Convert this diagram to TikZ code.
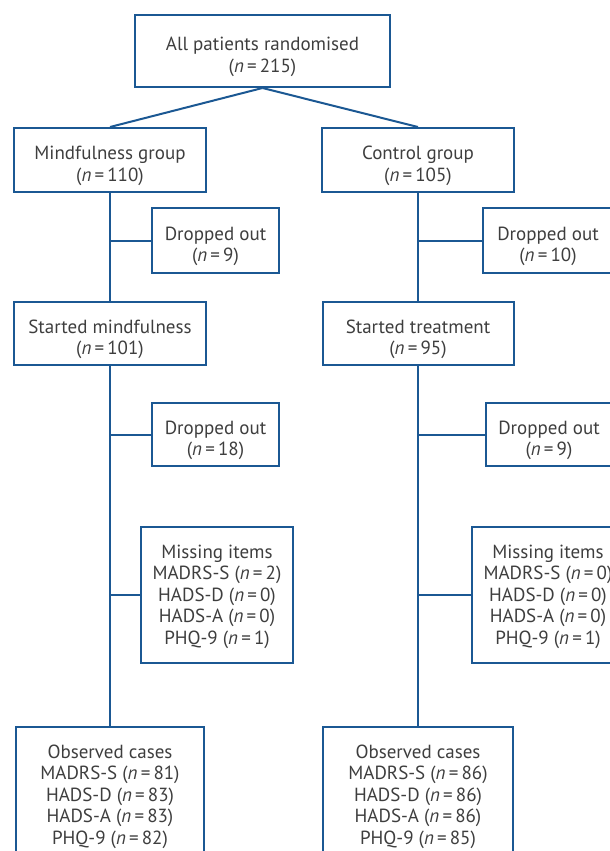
\documentclass[tikz,border=0pt]{standalone}
\usepackage{fontspec}
\setmainfont{PT Sans}
\usepackage{tikz}
\definecolor{boxblue}{RGB}{27,88,147}
\definecolor{textgrey}{RGB}{62,62,62}

\begin{document}
\begin{tikzpicture}[x=1pt,y=-1pt,
  box/.style={shape=rectangle,draw=boxblue,line width=2pt,align=center,inner sep=0pt,text=textgrey,font=\fontsize{19}{21.5}\selectfont,text height=103pt},
  pair/.style={box,text height=47pt},
  link/.style={draw=boxblue,line width=2pt}]
\useasboundingbox (0,0) rectangle (610,851);
\clip (0,0) rectangle (610,851);
\node[pair,minimum width=255,minimum height=72] (1) at (262.5,51) {All patients randomised\\(\textit{n}\,=\,215)};
\node[pair,minimum width=192,minimum height=64] (2) at (110,160) {Mindfulness group\\(\textit{n}\,=\,110)};
\node[pair,minimum width=192,minimum height=64] (3) at (418,160) {Control group\\(\textit{n}\,=\,105)};
\node[pair,minimum width=127,minimum height=65] (4) at (215.5,240.5) {Dropped out\\(\textit{n}\,=\,9)};
\node[pair,minimum width=130,minimum height=65] (5) at (548,240.5) {Dropped out\\(\textit{n}\,=\,10)};
\node[pair,minimum width=192,minimum height=63] (6) at (110,333.5) {Started mindfulness\\(\textit{n}\,=\,101)};
\node[pair,minimum width=191,minimum height=63] (7) at (418,333.5) {Started treatment\\(\textit{n}\,=\,95)};
\node[pair,minimum width=127,minimum height=63] (8) at (215.5,434.5) {Dropped out\\(\textit{n}\,=\,18)};
\node[pair,minimum width=127,minimum height=63] (9) at (549,434.5) {Dropped out\\(\textit{n}\,=\,9)};
\node[box,minimum width=152,minimum height=136] (10) at (217,595) {Missing items\\MADRS-S (\textit{n}\,=\,2)\\HADS-D (\textit{n}\,=\,0)\\HADS-A (\textit{n}\,=\,0)\\PHQ-9 (\textit{n}\,=\,1)};
\node[box,minimum width=152,minimum height=136] (11) at (548,595) {Missing items\\MADRS-S (\textit{n}\,=\,0)\\HADS-D (\textit{n}\,=\,0)\\HADS-A (\textit{n}\,=\,0)\\PHQ-9 (\textit{n}\,=\,1)};
\node[box,minimum width=188,minimum height=136] (12) at (110,795) {Observed cases\\MADRS-S (\textit{n}\,=\,81)\\HADS-D (\textit{n}\,=\,83)\\HADS-A (\textit{n}\,=\,83)\\PHQ-9 (\textit{n}\,=\,82)};
\node[box,minimum width=190,minimum height=136] (13) at (418,795) {Observed cases\\MADRS-S (\textit{n}\,=\,86)\\HADS-D (\textit{n}\,=\,86)\\HADS-A (\textit{n}\,=\,86)\\PHQ-9 (\textit{n}\,=\,85)};
\path [link] (1.south) edge (2.north);
\path [link] (1.south) edge (3.north);
\path [link] (2) edge (6);
\path [link] (3) edge (7);
\path [link] (6) edge (12);
\path [link] (7) edge (13);
\path [link] (4.west -| 2.south) edge (4.west);
\path [link] (5.west -| 3.south) edge (5.west);
\path [link] (8.west -| 6.south) edge (8.west);
\path [link] (9.west -| 7.south) edge (9.west);
\path [link] (10.west -| 6.south) edge (10.west);
\path [link] (11.west -| 7.south) edge (11.west);
\end{tikzpicture}
\end{document}
